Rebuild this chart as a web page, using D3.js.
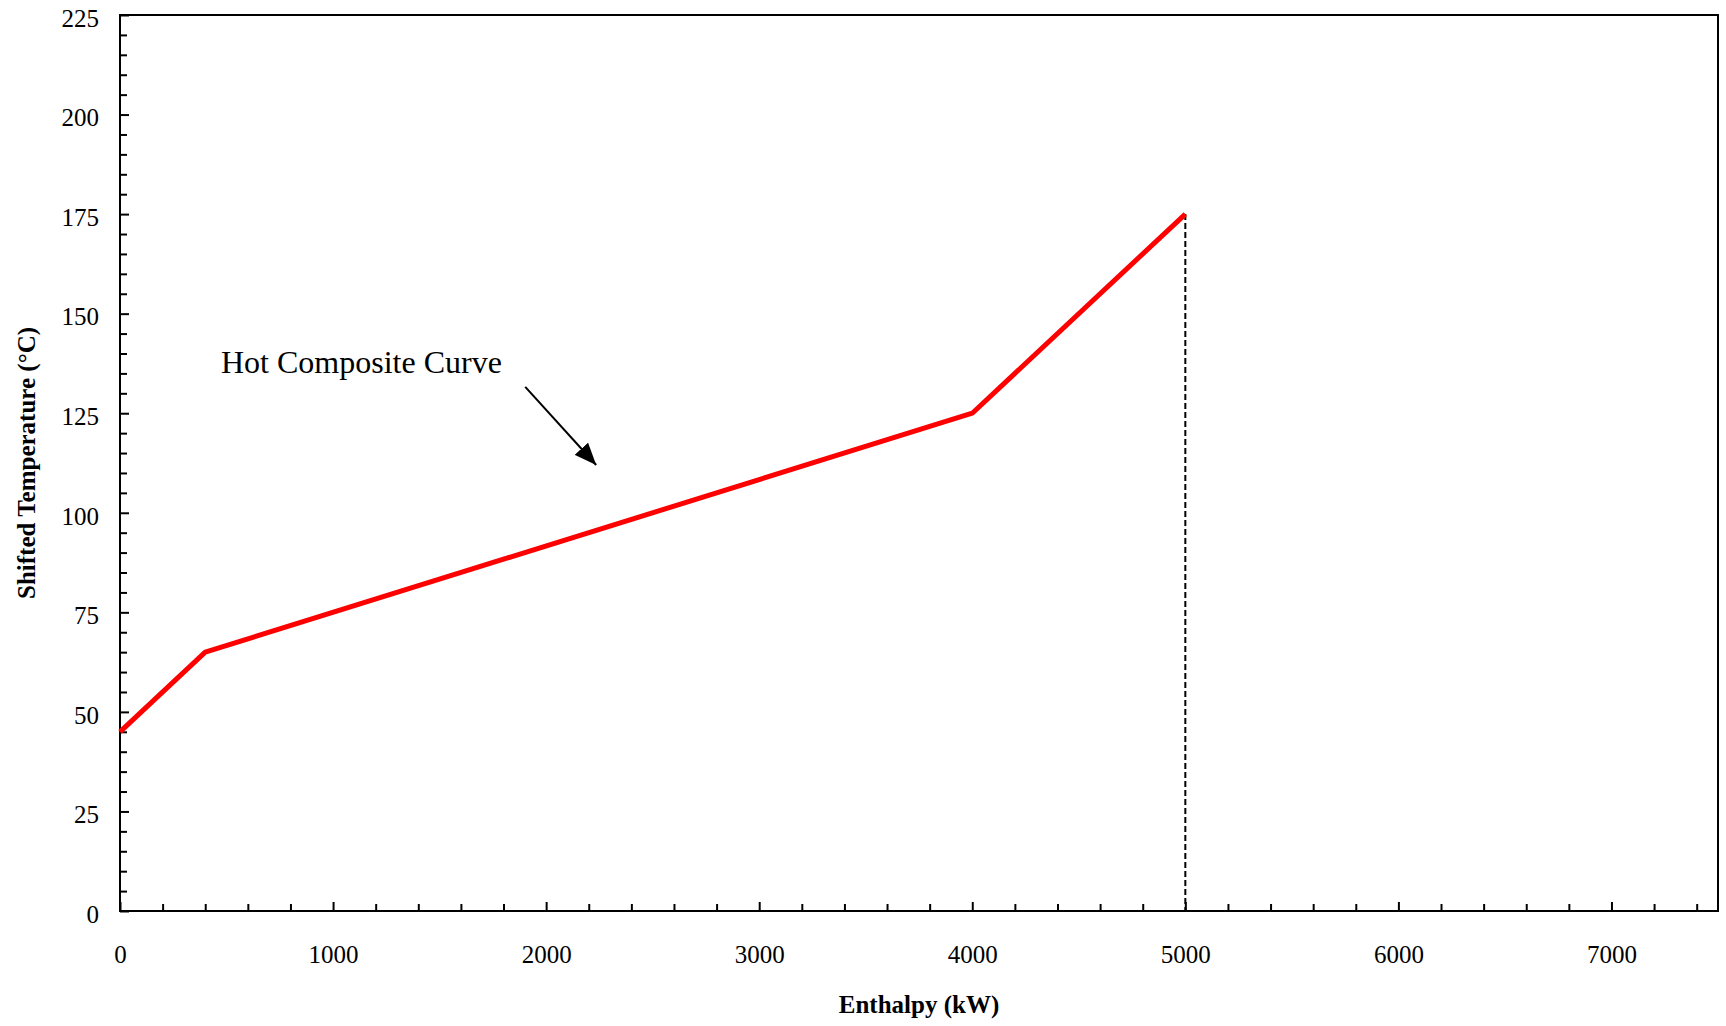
<!DOCTYPE html>
<html>
<head>
<meta charset="utf-8">
<script src="https://cdn.jsdelivr.net/npm/d3@7"></script>
<style>
  body { margin: 0; background: #fff; }
  text { font-family: "Liberation Serif", "DejaVu Serif", serif; fill: #000; }
</style>
</head>
<body>
<div id="chart"></div>
<script>
// hot composite curve
const enthalpy = [0, 400, 4000, 5000];
const temperature = [45, 65, 125, 175];

const xMajorTicks = [0, 1000, 2000, 3000, 4000, 5000, 6000, 7000];
const yMajorTicks = [0, 25, 50, 75, 100, 125, 150, 175, 200, 225];

const noteLabel = 'Hot Composite Curve';
const noteText = [474, 135];
const noteArrow = [[1902, 131.6], [2235, 112]];

const width = 1726;
const height = 1026;
const margin = { top: 15, right: 8, bottom: 115, left: 120 };

const svg = d3.select('#chart')
  .append('svg')
  .attr('width', width)
  .attr('height', height);

const x = d3.scaleLinear().domain([0, 7500]).range([margin.left, width - margin.right]);
const y = d3.scaleLinear().domain([0, 225]).range([height - margin.bottom, margin.top]);

const defs = svg.append('defs');
defs.append('marker')
  .attr('id', 'arrow')
  .attr('markerUnits', 'userSpaceOnUse')
  .attr('viewBox', '0 0 22 18')
  .attr('refX', 22)
  .attr('refY', 9)
  .attr('markerWidth', 22)
  .attr('markerHeight', 18)
  .attr('orient', 'auto')
  .append('path')
  .attr('d', 'M0,0 L22,9 L0,18 Z')
  .attr('fill', '#000');

// x axis, minor every 200, labels on thousands
const xAxis = svg.append('g')
  .attr('transform', `translate(0,${y(0)})`)
  .call(d3.axisBottom(x)
    .tickValues(d3.range(0, 7501, 200))
    .tickSize(-7)
    .tickFormat(d => xMajorTicks.includes(d) ? d : ''));
xAxis.select('.domain').remove();
xAxis.selectAll('.tick line')
  .attr('stroke-width', 2)
  .attr('y2', d => xMajorTicks.includes(d) ? -9 : -7);
xAxis.selectAll('.tick text')
  .attr('y', 52)
  .attr('dy', 0)
  .style('font-size', '25px');

// y axis, minor every 5
const yAxis = svg.append('g')
  .attr('transform', `translate(${x(0)},0)`)
  .call(d3.axisLeft(y)
    .tickValues(d3.range(0, 226, 5))
    .tickSize(-7)
    .tickFormat(d => yMajorTicks.includes(d) ? d : ''));
yAxis.select('.domain').remove();
yAxis.selectAll('.tick line')
  .attr('stroke-width', 2)
  .attr('x2', d => yMajorTicks.includes(d) ? 9 : 7);
yAxis.selectAll('.tick text')
  .attr('x', -21)
  .attr('dy', '0.45em')
  .style('font-size', '25px');

// frame
svg.append('rect')
  .attr('x', x(0))
  .attr('y', y(225))
  .attr('width', x(7500) - x(0))
  .attr('height', y(0) - y(225))
  .attr('fill', 'none')
  .attr('stroke', '#000')
  .attr('stroke-width', 2);

// dashed drop line at the hot end
const last = enthalpy.length - 1;
svg.append('line')
  .attr('x1', x(enthalpy[last]))
  .attr('x2', x(enthalpy[last]))
  .attr('y1', y(temperature[last]))
  .attr('y2', y(0))
  .attr('stroke', '#000')
  .attr('stroke-width', 2)
  .attr('stroke-dasharray', '6,3');

const line = d3.line()
  .x((d, i) => x(enthalpy[i]))
  .y((d, i) => y(temperature[i]));

svg.append('path')
  .datum(enthalpy)
  .attr('d', line)
  .attr('fill', 'none')
  .attr('stroke', '#ff0000')
  .attr('stroke-width', 5)
  .attr('stroke-linejoin', 'round');

// annotation
svg.append('text')
  .attr('x', x(noteText[0]))
  .attr('y', y(noteText[1]))
  .style('font-size', '32px')
  .text(noteLabel);

svg.append('line')
  .attr('x1', x(noteArrow[0][0]))
  .attr('y1', y(noteArrow[0][1]))
  .attr('x2', x(noteArrow[1][0]))
  .attr('y2', y(noteArrow[1][1]))
  .attr('stroke', '#000')
  .attr('stroke-width', 2)
  .attr('marker-end', 'url(#arrow)');

// axis titles
svg.append('text')
  .attr('x', (x(0) + x(7500)) / 2)
  .attr('y', 1013)
  .attr('text-anchor', 'middle')
  .style('font-size', '25px')
  .style('font-weight', 'bold')
  .text('Enthalpy (kW)');

svg.append('text')
  .attr('transform', `translate(35,${(y(0) + y(225)) / 2}) rotate(-90)`)
  .attr('text-anchor', 'middle')
  .style('font-size', '25px')
  .style('font-weight', 'bold')
  .text('Shifted Temperature (°C)');
</script>
</body>
</html>
